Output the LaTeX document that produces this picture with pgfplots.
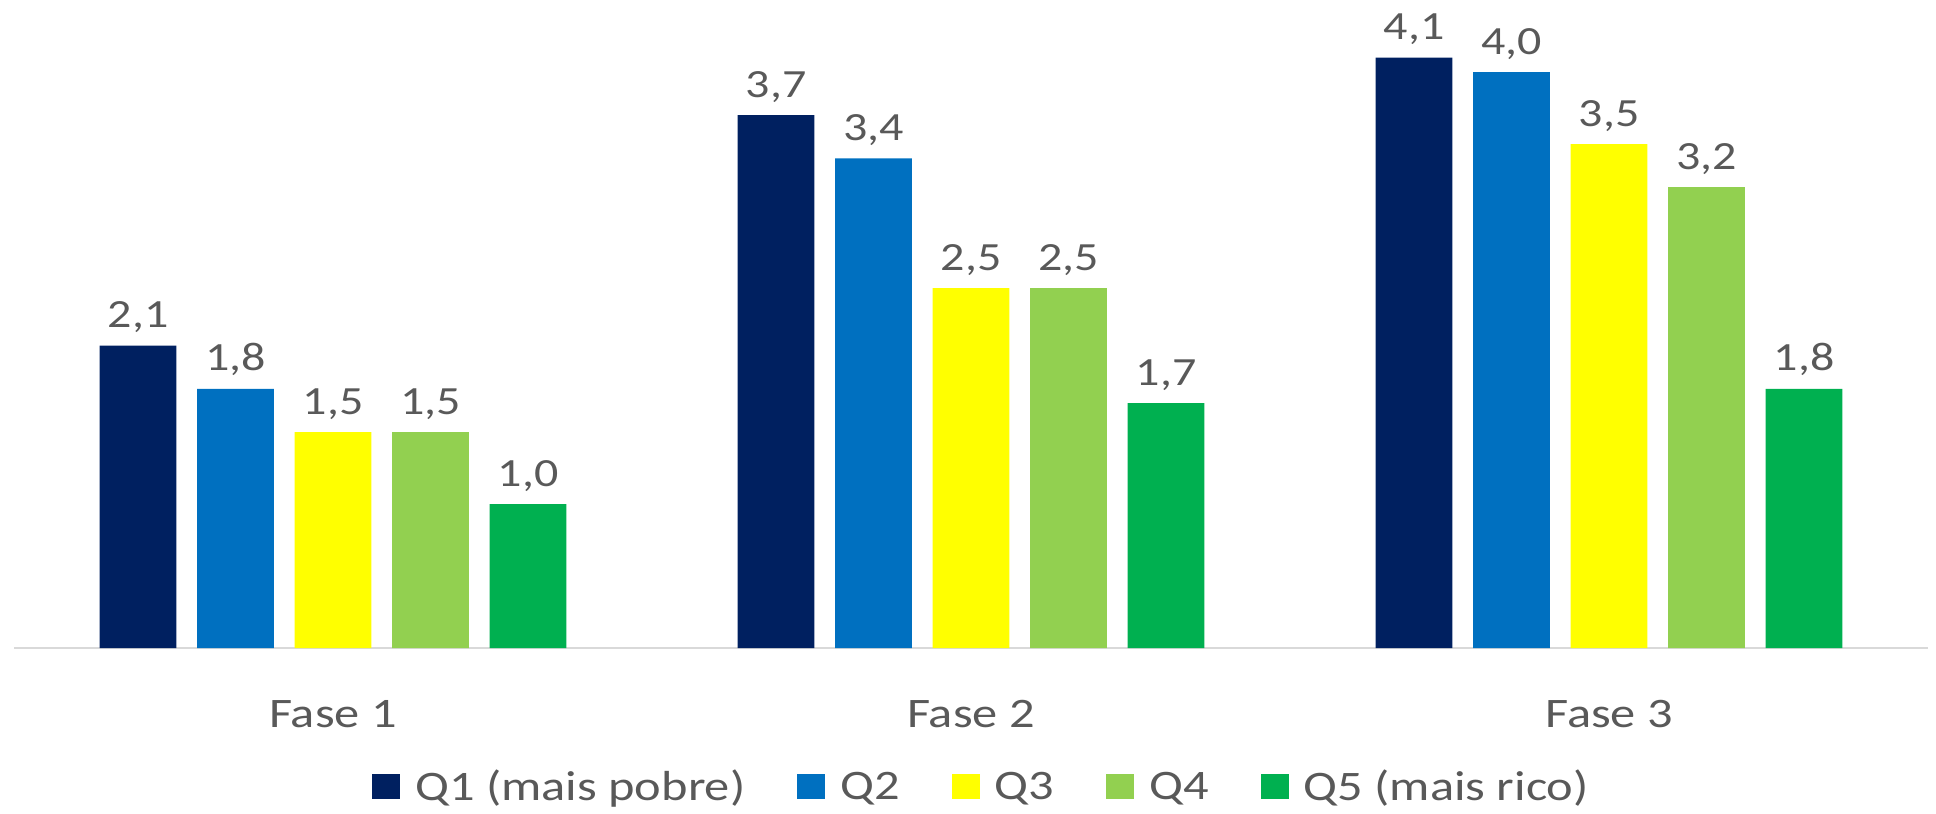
\documentclass[border=0pt]{standalone}
\usepackage{pgfplots}
\pgfplotsset{compat=1.18}
\usepackage{pgfplotstable}
\usepackage{fontspec}
\setmainfont{Carlito}[FakeStretch=1.2]
\definecolor{cQ1}{HTML}{002060}
\definecolor{cQ2}{HTML}{0070C0}
\definecolor{cQ3}{HTML}{FFFF00}
\definecolor{cQ4}{HTML}{92D050}
\definecolor{cQ5}{HTML}{00B050}
\definecolor{txt}{HTML}{595959}
\definecolor{axl}{HTML}{D9D9D9}

\pgfplotstableread{
x q1 q2 q3 q4 q5
0 2.1 1.8 1.5 1.5 1.0
1 3.7 3.4 2.5 2.5 1.7
2 4.1 4.0 3.5 3.2 1.8
}\data

\begin{document}
\begin{tikzpicture}
\begin{axis}[
  width=957pt, height=324pt, scale only axis,
  xmin=-0.5, xmax=2.5, ymin=0, ymax=4.5,
  ybar=10.45pt, bar width=38.3pt,
  axis x line*=bottom, axis y line=none,
  x axis line style={draw=axl, line width=1.2pt},
  xtick={0,1,2}, xticklabels={Fase 1,Fase 2,Fase 3},
  major tick length=0pt,
  xticklabel style={anchor=base, yshift=-39.5pt, font=\fontsize{21}{25}\selectfont, text=txt},
  nodes near coords,
  every node near coord/.append style={font=\fontsize{20}{24}\selectfont, text=txt, anchor=base, yshift=9pt},
  /pgf/number format/use comma,
  /pgf/number format/fixed,
  /pgf/number format/fixed zerofill,
  /pgf/number format/precision=1,
  /pgf/number format/assume math mode=true,
  legend columns=5,
  legend style={at={(0.505,-0.2145)}, anchor=center, draw=none, fill=none,
    font=\fontsize{21}{25}\selectfont, text=txt,
    nodes={inner sep=0pt},
    /tikz/every odd column/.append style={column sep=7.5pt},
    /tikz/every even column/.append style={column sep=26pt}},
  legend image code/.code={\fill[#1] (0pt,-6.25pt) rectangle (14pt,6.25pt);},
]
\addplot[fill=cQ1, draw=none] table[x=x,y=q1]{\data};
\addplot[fill=cQ2, draw=none] table[x=x,y=q2]{\data};
\addplot[fill=cQ3, draw=none] table[x=x,y=q3]{\data};
\addplot[fill=cQ4, draw=none] table[x=x,y=q4]{\data};
\addplot[fill=cQ5, draw=none] table[x=x,y=q5]{\data};
\legend{Q1 (mais pobre), Q2, Q3, Q4, Q5 (mais rico)}
\end{axis}
\pgfresetboundingbox
\path ([xshift=-7pt,yshift=-82.5pt]current axis.south west) rectangle ([xshift=4pt]current axis.north east);
\end{tikzpicture}
\end{document}
